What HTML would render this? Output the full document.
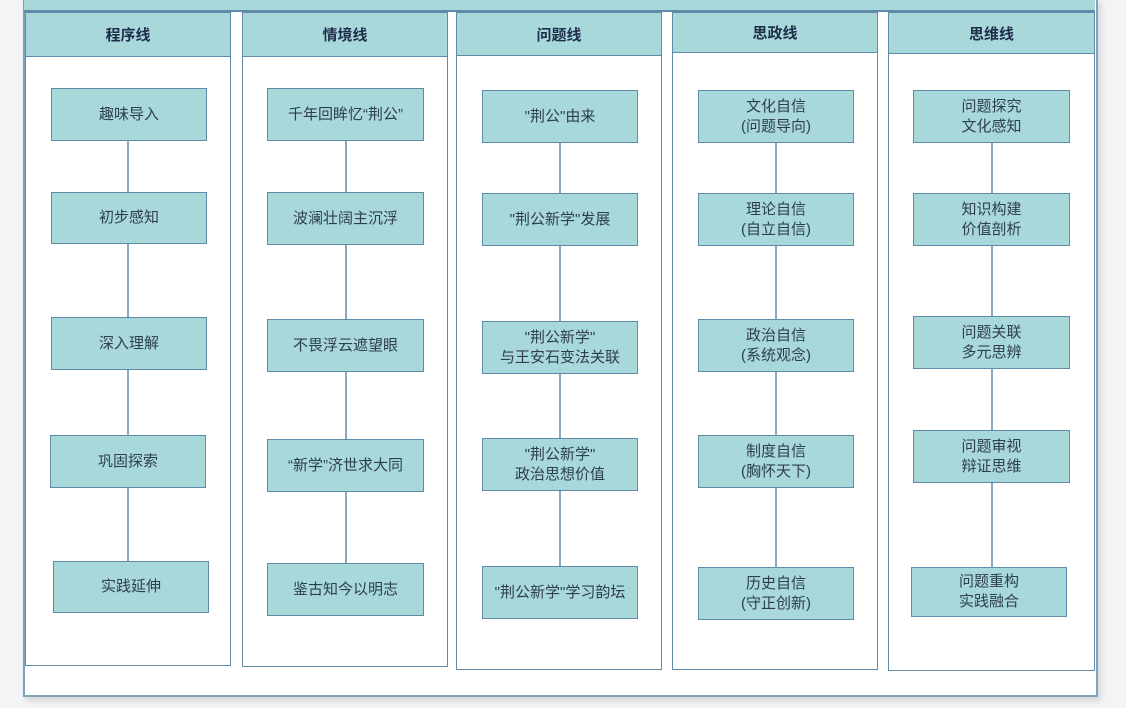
<!DOCTYPE html>
<html><head><meta charset="utf-8"><style>
body{margin:0;width:1126px;height:708px;background:#f3f4f6;position:relative;overflow:hidden;font-family:"Liberation Sans","Noto Sans CJK SC",sans-serif;}
.frame{position:absolute;left:23px;top:-2px;width:1071px;height:695px;background:#fff;border:2px solid #7fa3bb;box-shadow:3px 4px 6px rgba(0,0,0,0.12);}
.band{position:absolute;left:24px;top:0;width:1071px;height:10px;background:#a8d8da;border-bottom:2px solid #5f8aa8;}
.col{position:absolute;border:1.5px solid #5f8aa8;background:#fff;box-sizing:border-box;}
.hd{position:absolute;background:#a8d8da;border:1.5px solid #5f8aa8;box-sizing:border-box;display:flex;align-items:center;justify-content:center;font-weight:bold;font-size:15px;color:#1f2d4a;}
.bx{position:absolute;background:#a8d8da;border:1.5px solid #5f8aa8;box-sizing:border-box;display:flex;align-items:center;justify-content:center;text-align:center;font-size:15px;line-height:20px;color:#2d3e50;}
.ln{position:absolute;width:1.5px;background:#8aa8c0;}
</style></head><body>
<div class="frame"></div>
<div class="band"></div>

<div class="col" style="left:25px;top:12px;width:206px;height:654px"></div>
<div class="hd" style="left:25px;top:12px;width:206px;height:45px">程序线</div>
<div class="col" style="left:242px;top:12px;width:206px;height:655px"></div>
<div class="hd" style="left:242px;top:12px;width:206px;height:45px">情境线</div>
<div class="col" style="left:456px;top:12px;width:206px;height:658px"></div>
<div class="hd" style="left:456px;top:12px;width:206px;height:44px">问题线</div>
<div class="col" style="left:672px;top:12px;width:206px;height:658px"></div>
<div class="hd" style="left:672px;top:12px;width:206px;height:41px">思政线</div>
<div class="col" style="left:888px;top:12px;width:207px;height:659px"></div>
<div class="hd" style="left:888px;top:12px;width:207px;height:42px">思维线</div>

<div class="ln" style="left:127px;top:140px;height:422px"></div>
<div class="ln" style="left:345px;top:140px;height:424px"></div>
<div class="ln" style="left:559px;top:142px;height:425px"></div>
<div class="ln" style="left:775px;top:142px;height:426px"></div>
<div class="ln" style="left:991px;top:142px;height:426px"></div>

<div class="bx" style="left:51px;top:88px;width:156px;height:53px">趣味导入</div>
<div class="bx" style="left:51px;top:192px;width:156px;height:52px">初步感知</div>
<div class="bx" style="left:51px;top:317px;width:156px;height:53px">深入理解</div>
<div class="bx" style="left:50px;top:435px;width:156px;height:53px">巩固探索</div>
<div class="bx" style="left:53px;top:561px;width:156px;height:52px">实践延伸</div>

<div class="bx" style="left:267px;top:88px;width:157px;height:53px">千年回眸忆“荆公”</div>
<div class="bx" style="left:267px;top:192px;width:157px;height:53px">波澜壮阔主沉浮</div>
<div class="bx" style="left:267px;top:319px;width:157px;height:53px">不畏浮云遮望眼</div>
<div class="bx" style="left:267px;top:439px;width:157px;height:53px">“新学”济世求大同</div>
<div class="bx" style="left:267px;top:563px;width:157px;height:53px">鉴古知今以明志</div>

<div class="bx" style="left:482px;top:90px;width:156px;height:53px">"荆公"由来</div>
<div class="bx" style="left:482px;top:193px;width:156px;height:53px">"荆公新学"发展</div>
<div class="bx" style="left:482px;top:321px;width:156px;height:53px">"荆公新学"<br>与王安石变法关联</div>
<div class="bx" style="left:482px;top:438px;width:156px;height:53px">"荆公新学"<br>政治思想价值</div>
<div class="bx" style="left:482px;top:566px;width:156px;height:53px">"荆公新学"学习韵坛</div>

<div class="bx" style="left:698px;top:90px;width:156px;height:53px">文化自信<br>(问题导向)</div>
<div class="bx" style="left:698px;top:193px;width:156px;height:53px">理论自信<br>(自立自信)</div>
<div class="bx" style="left:698px;top:319px;width:156px;height:53px">政治自信<br>(系统观念)</div>
<div class="bx" style="left:698px;top:435px;width:156px;height:53px">制度自信<br>(胸怀天下)</div>
<div class="bx" style="left:698px;top:567px;width:156px;height:53px">历史自信<br>(守正创新)</div>

<div class="bx" style="left:913px;top:90px;width:157px;height:53px">问题探究<br>文化感知</div>
<div class="bx" style="left:913px;top:193px;width:157px;height:53px">知识构建<br>价值剖析</div>
<div class="bx" style="left:913px;top:316px;width:157px;height:53px">问题关联<br>多元思辨</div>
<div class="bx" style="left:913px;top:430px;width:157px;height:53px">问题审视<br>辩证思维</div>
<div class="bx" style="left:911px;top:567px;width:156px;height:50px">问题重构<br>实践融合</div>
</body></html>
